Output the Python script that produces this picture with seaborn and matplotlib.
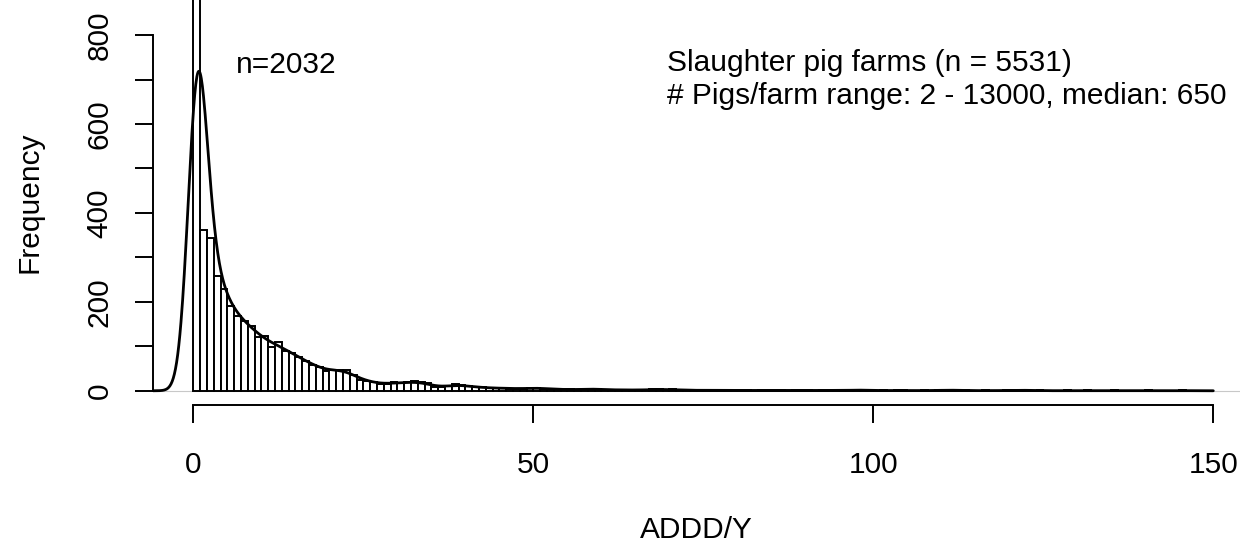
import numpy as np
import pandas as pd
import seaborn as sns
import matplotlib.pyplot as plt

# farms per 1-unit ADDD/Y bin (0-1, 1-2, ... 149-150)
counts = [2032, 361, 344, 259, 228, 190, 169, 156, 146, 121,
          124, 99, 109, 90, 86, 75, 68, 59, 53, 44,
          47, 47, 47, 36, 25, 23, 19, 15, 15, 19,
          17, 19, 21, 19, 17, 8, 8, 10, 15, 13,
          10, 8, 8, 6, 6, 6, 5, 5, 4, 6,
          7, 5, 4, 3, 3, 3, 2, 3, 5, 4,
          2, 2, 2, 2, 2, 1, 2, 3, 4, 2,
          3, 2, 1, 1, 1, 1, 1, 1, 1, 1,
          1, 1, 0, 1, 1, 1, 1, 0, 1, 1,
          1, 0, 1, 1, 1, 0, 1, 2, 2, 1,
          0, 1, 0, 1, 1, 0, 0, 1, 0, 1,
          1, 2, 1, 1, 0, 0, 1, 0, 0, 1,
          1, 2, 1, 0, 1, 0, 0, 0, 1, 0,
          0, 1, 0, 0, 0, 1, 0, 0, 0, 0,
          1, 0, 0, 0, 0, 1, 0, 0, 0, 0]
bin_mids = np.arange(150) + 0.5
kde_bw = 1.28  # density bandwidth in ADDD/Y units

x_ticks = [0, 50, 100, 150]
y_ticks = [0, 200, 400, 600, 800]
y_minor = [100, 300, 500, 700]

title_lines = ["Slaughter pig farms (n = 5531)",
               "# Pigs/farm range: 2 - 13000, median: 650"]
first_bin_label = "n=2032"

sns.set_theme(style="ticks", rc={'text.color': 'black', 'axes.labelcolor': 'black',
                                 'xtick.color': 'black', 'ytick.color': 'black',
                                 'axes.edgecolor': 'black'})
plt.rcParams['font.family'] = ['Liberation Sans', 'DejaVu Sans']
fs = 21.5

df = pd.DataFrame({'addd': bin_mids, 'farms': counts})
w = df['farms'] / df['farms'].sum()
mean = (df['addd'] * w).sum()
sd = np.sqrt((((df['addd'] - mean) ** 2) * w).sum())

fig = plt.figure(figsize=(12.4, 5.5), dpi=100)
ax = fig.add_axes([152.5/1240, 145/550, 1 - 152.5/1240, 405/550])

sns.histplot(data=df, x='addd', weights='farms', binwidth=1, binrange=(0, 150),
             kde=True,
             kde_kws={'bw_method': kde_bw / sd, 'cut': 3, 'gridsize': 2000,
                      'clip': (-20, 150)},
             color='black', facecolor='white', edgecolor='black',
             linewidth=1.4, alpha=1,
             line_kws={'linewidth': 2.0}, ax=ax)

ax.axhline(0, color='#c8c8c8', lw=0.8, zorder=0)

ax.set_xlim(-6, (1240 - 193.3) / 6.8)
ax.set_ylim(-32, 879)

sns.despine(ax=ax)
ax.spines['left'].set_bounds(0, 800)
ax.spines['bottom'].set_bounds(0, 150)
for s in ['left', 'bottom']:
    ax.spines[s].set_linewidth(1.4)

ax.set_xticks(x_ticks)
ax.set_xticklabels([str(t) for t in x_ticks])
ax.set_yticks(y_ticks)
ax.set_yticklabels([str(t) for t in y_ticks], rotation=90, va='center')
ax.set_yticks(y_minor, minor=True)
ax.tick_params(axis='both', which='both', length=13, width=1.4, labelsize=fs)
ax.tick_params(axis='x', pad=20)
ax.tick_params(axis='y', pad=15)

ax.set_xlabel("ADDD/Y", fontsize=fs, labelpad=27)
ax.set_ylabel("Frequency", fontsize=fs, labelpad=30)

ax.text(6.3, 715, first_bin_label, fontsize=fs, va='baseline')
ax.text(69.6, 719, title_lines[0], fontsize=fs, va='baseline')
ax.text(69.6, 645, title_lines[1], fontsize=fs, va='baseline')

fig.savefig("out.png", dpi=100, facecolor='white')
